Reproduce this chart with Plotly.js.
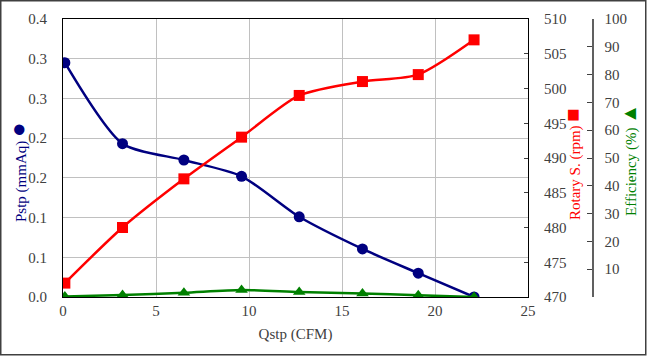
<!DOCTYPE html>
<html>
<head>
<meta charset="utf-8">
<script src="https://cdn.plot.ly/plotly-3.0.1.min.js"></script>
<style>html,body{margin:0;padding:0;background:#fff}#chart{width:647px;height:356px}</style>
</head>
<body>
<div id="chart"></div>
<script>
// Data
const qstp = [0.1, 3.2, 6.5, 9.6, 12.7, 16.1, 19.1, 22.1];
const pstp = [0.295, 0.193, 0.1725, 0.152, 0.101, 0.0605, 0.030, 0.0];
const qRpm = [0.1, 3.2, 6.5, 9.6, 12.7, 16.1, 19.1, 22.1];
const rpm = [472, 480, 487, 493, 499, 501, 502, 507];
const qEff = [0.1, 3.2, 6.5, 9.6, 12.7, 16.1, 19.1, 22.1];
const eff = [0.2, 0.7, 1.5, 2.5, 1.8, 1.3, 0.6, 0.0];

const pTickVals = [0, 0.05, 0.10, 0.15, 0.20, 0.25, 0.30, 0.35];
const pTickText = ['0.0', '0.1', '0.1', '0.2', '0.2', '0.3', '0.3', '0.4'];
const rpmTickVals = [470, 475, 480, 485, 490, 495, 500, 505, 510];
const effTickVals = [0, 10, 20, 30, 40, 50, 60, 70, 80, 90, 100];
const effTickText = ['', '10', '20', '30', '40', '50', '60', '70', '80', '90', '100'];

const W = 647, H = 356, ML = 63, MR = 20, MT = 19, MB = 59;
const PW = W - ML - MR, PH = H - MT - MB;
const px = v => (v - ML) / PW;
const py = v => (H - MB - v) / PH;

const FONT = 'Liberation Serif';
const TICKC = '#404040';
const TF = {family: FONT, size: 15, color: TICKC};

const traces = [
  {x: qstp, y: pstp, yaxis: 'y', mode: 'lines+markers', type: 'scatter',
   line: {color: '#000080', width: 2.5, shape: 'spline', smoothing: 0.7},
   marker: {symbol: 'circle', size: 11, color: '#000080'}},
  {x: qRpm, y: rpm, yaxis: 'y2', mode: 'lines+markers', type: 'scatter',
   line: {color: '#ff0000', width: 2.5, shape: 'spline', smoothing: 0.7},
   marker: {symbol: 'square', size: 11, color: '#ff0000'}},
  {x: qEff, y: eff, yaxis: 'y3', mode: 'lines+markers', type: 'scatter',
   line: {color: '#008000', width: 2.5, shape: 'spline', smoothing: 0.7},
   marker: {symbol: 'triangle-up', size: 11, color: '#008000'}}
];

const layout = {
  width: W, height: H,
  margin: {l: ML, r: MR, t: MT, b: MB, pad: 0},
  paper_bgcolor: '#ffffff', plot_bgcolor: '#ffffff',
  showlegend: false,
  font: TF,
  xaxis: {
    domain: [0, px(528)], range: [0, 25], tickmode: 'linear', tick0: 0, dtick: 5,
    showgrid: true, gridcolor: '#c0c0c0', gridwidth: 1, zeroline: false,
    showline: true, linecolor: '#000000', linewidth: 1, mirror: true,
    ticks: '', tickfont: TF,
    title: {text: 'Qstp (CFM)', font: TF, standoff: 10}
  },
  yaxis: {
    range: [0, 0.35], tickmode: 'array', tickvals: pTickVals, ticktext: pTickText,
    showgrid: true, gridcolor: '#c0c0c0', gridwidth: 1, zeroline: false,
    showline: true, linecolor: '#000000', linewidth: 1, mirror: true,
    ticks: '', ticklabelstandoff: 12, tickfont: TF
  },
  yaxis2: {
    overlaying: 'y', side: 'right', anchor: 'x', range: [470, 510],
    tickmode: 'array', tickvals: rpmTickVals, showgrid: false, zeroline: false,
    showline: true, linecolor: '#000000', linewidth: 1,
    ticks: 'inside', ticklen: 4, tickcolor: '#404040', ticklabelstandoff: 12,
    tickfont: TF
  },
  yaxis3: {
    overlaying: 'y', side: 'right', anchor: 'free', position: px(592), range: [0, 100],
    tickmode: 'array', tickvals: effTickVals, ticktext: effTickText,
    showgrid: false, zeroline: false,
    showline: true, linecolor: '#606060', linewidth: 1.5,
    ticks: 'inside', ticklen: 5, tickcolor: '#404040', ticklabelstandoff: 8,
    tickfont: TF
  },
  annotations: [
    {xref: 'paper', yref: 'paper', x: px(18), y: py(172), textangle: -90, showarrow: false,
     xanchor: 'center', yanchor: 'middle',
     text: 'Pstp (mmAq) <span style="font-size:24px">●</span>', font: {family: FONT, size: 15, color: '#000080'}},
    {xref: 'paper', yref: 'paper', x: px(572), y: py(164), textangle: -90, showarrow: false,
     xanchor: 'center', yanchor: 'middle',
     text: 'Rotary S. (rpm) <span style="font-size:22px">■</span>', font: {family: FONT, size: 15, color: '#ff0000'}},
    {xref: 'paper', yref: 'paper', x: px(629), y: py(160), textangle: -90, showarrow: false,
     xanchor: 'center', yanchor: 'middle',
     text: 'Efficiency (%) <span style="font-size:20px">▲</span>', font: {family: FONT, size: 15, color: '#008000'}}
  ],
  shapes: [
    {type: 'rect', xref: 'paper', yref: 'paper', x0: px(0.75), x1: px(645.75), y0: py(354.75), y1: py(0.75),
     line: {color: '#404040', width: 1.5}, fillcolor: 'rgba(0,0,0,0)', layer: 'above'}
  ]
};

Plotly.newPlot('chart', traces, layout, {displayModeBar: false, staticPlot: true}).then(gd => {
  // ensure the serif face is applied to every text node
  document.querySelectorAll('#chart text').forEach(t => { t.style.fontFamily = "'Liberation Serif', serif"; });
});
</script>
</body>
</html>
